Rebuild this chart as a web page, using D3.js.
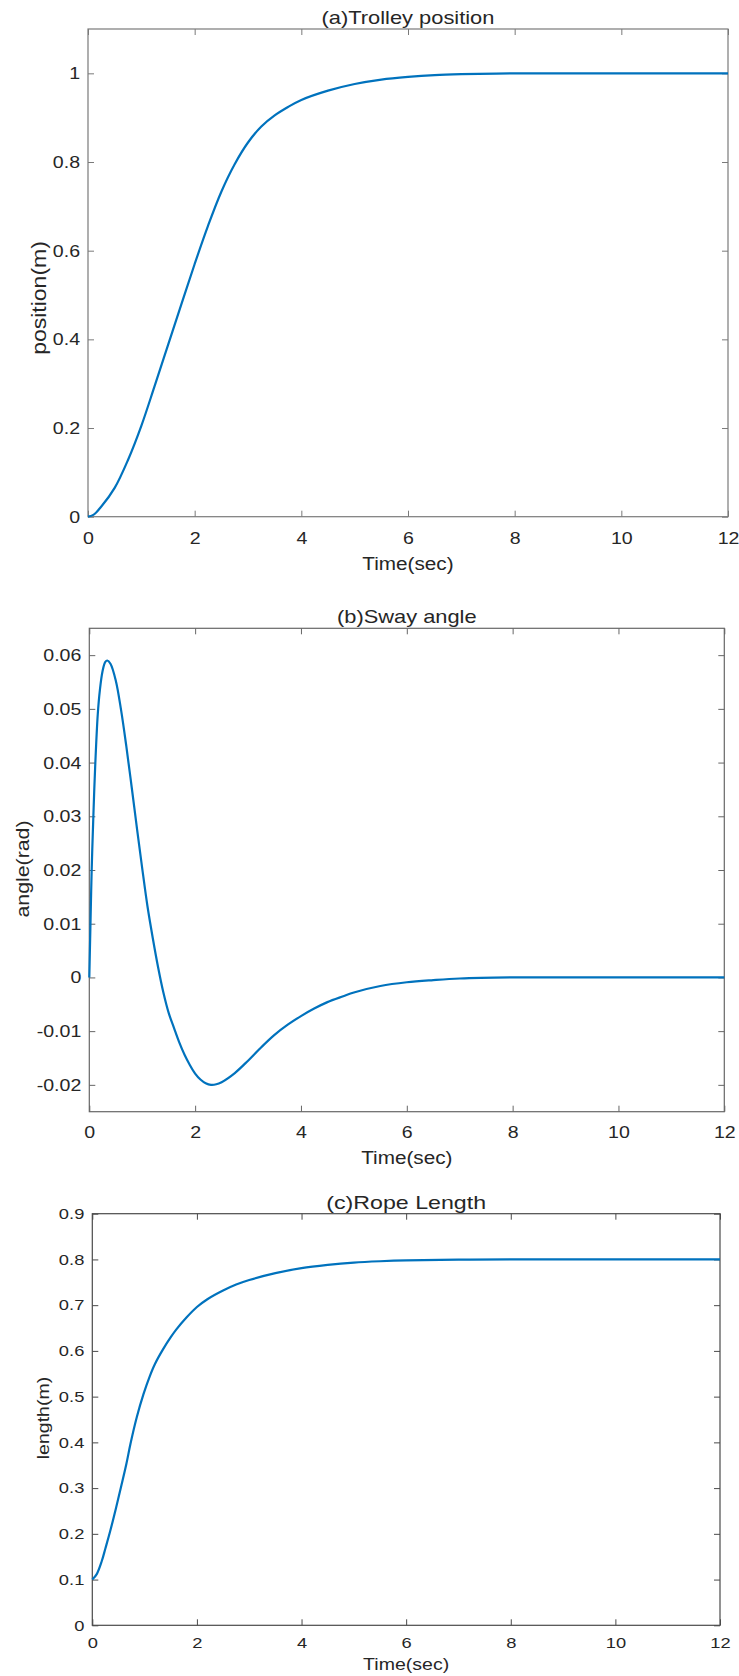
<!DOCTYPE html>
<html>
<head>
<meta charset="utf-8">
<script src="https://cdn.jsdelivr.net/npm/d3@7"></script>
<style>
  html, body { margin: 0; padding: 0; background: #fff; }
  svg { display: block; }
  text { font-family: "Liberation Sans", Arial, sans-serif; fill: #262626; }
</style>
</head>
<body>
<svg id="chart" width="739" height="1676"></svg>
<script>
// ---------------- DATA ----------------
const timeTicks = [0, 2, 4, 6, 8, 10, 12];

// (a) Trolley position
const posTime  = [0, 0.1, 0.25, 0.5, 0.75, 1, 1.25, 1.5, 1.75, 2, 2.25, 2.5, 2.75, 3, 3.25, 3.5, 3.75, 4, 4.5, 5, 5.5, 6, 6.5, 7, 8, 9, 10, 11, 12];
const posValue = [0, 0.004, 0.023, 0.065, 0.128, 0.205, 0.295, 0.387, 0.479, 0.57, 0.656, 0.733, 0.795, 0.844, 0.88, 0.905, 0.924, 0.94, 0.961, 0.976, 0.986, 0.992, 0.996, 0.998, 1.0, 1.0, 1.0, 1.0, 1.0];
const posTicks = [0, 0.2, 0.4, 0.6, 0.8, 1];
const posTickLabels = ["0", "0.2", "0.4", "0.6", "0.8", "1"];

// (b) Sway angle
const swayTime  = [0, 0.02, 0.045, 0.08, 0.11, 0.16, 0.2, 0.25, 0.3, 0.34, 0.4, 0.5, 0.6, 0.7, 0.8, 0.9, 1.0, 1.1, 1.2, 1.3, 1.4, 1.5, 1.6, 1.7, 1.8, 1.9, 2.0, 2.1, 2.2, 2.3, 2.4, 2.5, 2.75, 3.0, 3.25, 3.5, 3.75, 4.0, 4.25, 4.5, 4.8, 5.0, 5.5, 6, 6.5, 7, 8, 9, 10, 11, 12];
const swayValue = [0, 0.009, 0.02, 0.031, 0.039, 0.049, 0.0535, 0.057, 0.0587, 0.059, 0.0584, 0.0553, 0.0498, 0.043, 0.0355, 0.0278, 0.0203, 0.0132, 0.0073, 0.0019, -0.0028, -0.0066, -0.0094, -0.0121, -0.0144, -0.0163, -0.0179, -0.019, -0.0197, -0.02, -0.0199, -0.0195, -0.0178, -0.0155, -0.013, -0.0107, -0.0088, -0.0072, -0.0058, -0.0046, -0.0035, -0.0028, -0.0016, -0.0009, -0.0005, -0.0002, 0, 0, 0, 0, 0];
const swayTicks = [-0.02, -0.01, 0, 0.01, 0.02, 0.03, 0.04, 0.05, 0.06];
const swayTickLabels = ["-0.02", "-0.01", "0", "0.01", "0.02", "0.03", "0.04", "0.05", "0.06"];

// (c) Rope length
const ropeTime  = [0, 0.085, 0.18, 0.25, 0.34, 0.45, 0.55, 0.65, 0.73, 0.85, 0.98, 1.1, 1.2, 1.36, 1.5, 1.6, 1.8, 2.0, 2.2, 2.5, 2.75, 3.0, 3.5, 4.0, 4.5, 5, 5.5, 6, 7, 8, 9, 10, 11, 12];
const ropeValue = [0.1, 0.112, 0.14, 0.168, 0.205, 0.255, 0.303, 0.352, 0.397, 0.455, 0.506, 0.545, 0.572, 0.605, 0.63, 0.646, 0.673, 0.696, 0.713, 0.732, 0.745, 0.755, 0.77, 0.781, 0.788, 0.793, 0.796, 0.798, 0.7995, 0.8, 0.8, 0.8, 0.8, 0.8];
const ropeTicks = [0, 0.1, 0.2, 0.3, 0.4, 0.5, 0.6, 0.7, 0.8, 0.9];
const ropeTickLabels = ["0", "0.1", "0.2", "0.3", "0.4", "0.5", "0.6", "0.7", "0.8", "0.9"];

const titles  = ["(a)Trolley position", "(b)Sway angle", "(c)Rope Length"];
const yLabels = ["position(m)", "angle(rad)", "length(m)"];
const xLabel  = "Time(sec)";

// ---------------- LAYOUT ----------------
const panels = [
  { t: posTime,  v: posValue,  ticks: posTicks,  labels: posTickLabels,  yDom: [0, 1.1],
    left: 88, right: 728, top: 29, bottom: 516.7, axisColor: "#7a7a7a",
    fs: 17, k: 1.15, titleY: 24, yLabelX: 46, yLabelY: 298, yLabelFs: 20, tickBase: 544, xLabelBase: 570 },
  { t: swayTime, v: swayValue, ticks: swayTicks, labels: swayTickLabels, yDom: [-0.025, 0.065],
    left: 89.3, right: 724.3, top: 628.3, bottom: 1111.7, axisColor: "#666",
    fs: 17, k: 1.15, titleY: 623, yLabelX: 29, yLabelY: 869, yLabelFs: 18.5, tickBase: 1138, xLabelBase: 1164 },
  { t: ropeTime, v: ropeValue, ticks: ropeTicks, labels: ropeTickLabels, yDom: [0, 0.9],
    left: 92.3, right: 720, top: 1213.7, bottom: 1625.3, axisColor: "#4a4a4a",
    fs: 15, k: 1.22, titleY: 1209, yLabelX: 49, yLabelY: 1418, yLabelFs: 16, tickBase: 1648, xLabelBase: 1670 }
];

const svg = d3.select("#chart");

function stretch(sel, k) {
  sel.each(function () {
    const len = this.getComputedTextLength();
    if (len > 0) {
      d3.select(this).attr("textLength", len * k).attr("lengthAdjust", "spacingAndGlyphs");
    }
  });
}

panels.forEach((p, i) => {
  const x = d3.scaleLinear().domain([0, 12]).range([p.left, p.right]);
  const y = d3.scaleLinear().domain(p.yDom).range([p.bottom, p.top]);
  const g = svg.append("g");

  // box
  g.append("rect")
    .attr("x", p.left).attr("y", p.top)
    .attr("width", p.right - p.left).attr("height", p.bottom - p.top)
    .attr("fill", "none").attr("stroke", p.axisColor).attr("stroke-width", 1.2);

  // bottom axis (ticks inward, labels outside)
  const bx = g.append("g").attr("transform", `translate(0,${p.bottom})`)
    .call(d3.axisBottom(x).tickValues(timeTicks).tickSizeInner(-6).tickSizeOuter(0).tickPadding(0).tickFormat(d3.format("d")));
  bx.select(".domain").remove();
  bx.selectAll(".tick line").attr("stroke", p.axisColor);
  bx.selectAll(".tick text")
    .attr("y", p.tickBase - p.bottom).attr("dy", null)
    .attr("font-size", p.fs).attr("font-family", "Liberation Sans, Arial, sans-serif").attr("fill", "#262626");

  // top axis ticks only
  const tx = g.append("g").attr("transform", `translate(0,${p.top})`)
    .call(d3.axisTop(x).tickValues(timeTicks).tickSizeInner(-6).tickSizeOuter(0).tickFormat(""));
  tx.select(".domain").remove();
  tx.selectAll(".tick line").attr("stroke", p.axisColor);

  // left axis
  const ly = g.append("g").attr("transform", `translate(${p.left},0)`)
    .call(d3.axisLeft(y).tickValues(p.ticks).tickSizeInner(-6).tickSizeOuter(0).tickPadding(8)
      .tickFormat((d, j) => p.labels[j]));
  ly.select(".domain").remove();
  ly.selectAll(".tick line").attr("stroke", p.axisColor);
  ly.selectAll(".tick text")
    .attr("font-size", p.fs).attr("font-family", "Liberation Sans, Arial, sans-serif").attr("fill", "#262626");

  // right axis ticks only
  const ry = g.append("g").attr("transform", `translate(${p.right},0)`)
    .call(d3.axisRight(y).tickValues(p.ticks).tickSizeInner(-6).tickSizeOuter(0).tickFormat(""));
  ry.select(".domain").remove();
  ry.selectAll(".tick line").attr("stroke", p.axisColor);

  // line
  const data = p.t.map((t, j) => [t, p.v[j]]);
  g.append("path")
    .datum(data)
    .attr("fill", "none")
    .attr("stroke", "#0072BD")
    .attr("stroke-width", 2.2)
    .attr("stroke-linejoin", "round")
    .attr("d", d3.line().x(d => x(d[0])).y(d => y(d[1])).curve(d3.curveCatmullRom.alpha(0.5)));

  // title
  g.append("text").attr("class", "st")
    .attr("x", (p.left + p.right) / 2).attr("y", p.titleY)
    .attr("text-anchor", "middle").attr("font-size", 19)
    .text(titles[i]);

  // x label
  g.append("text").attr("class", "st")
    .attr("x", (p.left + p.right) / 2).attr("y", p.xLabelBase)
    .attr("text-anchor", "middle").attr("font-size", p.fs + 1)
    .text(xLabel);

  // y label
  g.append("text").attr("class", "st")
    .attr("transform", `translate(${p.yLabelX},${p.yLabelY}) rotate(-90)`)
    .attr("text-anchor", "middle").attr("font-size", p.yLabelFs)
    .text(yLabels[i]);

  stretch(g.selectAll(".tick text"), p.k);
  stretch(g.selectAll("text.st"), p.k);
});
</script>
</body>
</html>
